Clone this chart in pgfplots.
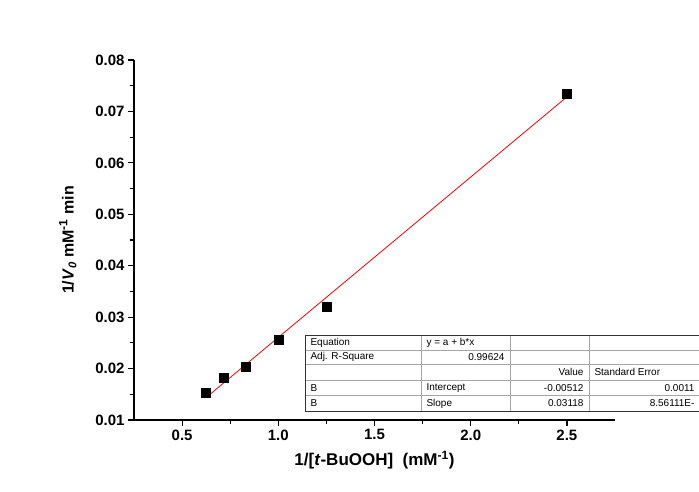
\documentclass[border=0pt]{standalone}
\usepackage{fontspec}
\setmainfont{Liberation Sans}
\usepackage{pgfplots}
\pgfplotsset{compat=1.18}
\begin{document}
\begin{tikzpicture}[x=1pt,y=1pt]
\useasboundingbox (0,0) rectangle (699,492);
\clip (0,0) rectangle (699,492);
\begin{axis}[
  at={(134pt,72pt)}, anchor=south west,
  scale only axis, width=481pt, height=360pt,
  xmin=0.25, xmax=2.75, ymin=0.01, ymax=0.08,
  axis x line=bottom, axis y line=left,
  axis line style={-, line width=1.4pt},
  tick align=outside,
  major tick length=6pt, minor tick length=4pt,
  tick style={line width=1.2pt, black},
  xtick={0.5,1.0,1.5,2.0,2.5},
  ytick={0.01,0.02,0.03,0.04,0.05,0.06,0.07,0.08},
  minor x tick num=1, minor y tick num=1,
  /pgf/number format/assume math mode=true,
  xticklabel style={font=\fontsize{15}{17}\selectfont\bfseries, /pgf/number format/.cd, fixed, fixed zerofill, precision=1},
  yticklabel style={font=\fontsize{15}{17}\selectfont\bfseries, /pgf/number format/.cd, fixed, fixed zerofill, precision=2},
  scaled y ticks=false,
  xlabel={1/[\textit{t}-BuOOH]\ \ (mM\textsuperscript{\large -1})},
  ylabel={1/\textit{V}\textsubscript{\textit{0}} mM\textsuperscript{\large -1} min},
  xlabel style={font=\fontsize{17}{20}\selectfont\bfseries, yshift=-4pt},
  ylabel style={font=\fontsize{16}{19}\selectfont\bfseries, yshift=12pt},
  clip=false,
]
\addplot[only marks, mark=square*, mark size=4.5pt, black] coordinates {
  (0.625,0.0154) (0.714,0.0182) (0.833,0.0203) (1.0,0.0256) (1.25,0.0320) (2.5,0.0734)
};
\addplot[red, line width=0.8pt] coordinates {(0.625,0.01437) (2.5,0.07283)};
\end{axis}
% fit table
\begin{scope}[font=\fontsize{10}{12}\selectfont]
\fill[white] (305,81) rectangle (720,157);
\foreach \yy in {142,127.7,112,96.3} {\draw[gray!70, line width=0.6pt] (305,\yy) -- (720,\yy);}
\foreach \xx in {421,510,589} {\draw[gray!70, line width=0.6pt] (\xx,81) -- (\xx,157);}
\draw[black!80, line width=0.8pt] (305,81) rectangle (720,157);
\node[anchor=west] at (307,149.5) {Equation};
\node[anchor=west] at (423,149.5) {y = a + b*x};
\node[anchor=west] at (307,135) {Adj. R-Square};
\node[anchor=east] at (508,135) {0.99624};
\node[anchor=east] at (587,120) {Value};
\node[anchor=west] at (591,120) {Standard Error};
\node[anchor=west] at (307,104) {B};
\node[anchor=west] at (423,104) {Intercept};
\node[anchor=east] at (587,104) {-0.00512};
\node[anchor=east] at (698,104) {0.0011};
\node[anchor=west] at (307,88.5) {B};
\node[anchor=west] at (423,88.5) {Slope};
\node[anchor=east] at (587,88.5) {0.03118};
\node[anchor=east] at (698,88.5) {8.56111E-};
\end{scope}
\end{tikzpicture}
\end{document}
